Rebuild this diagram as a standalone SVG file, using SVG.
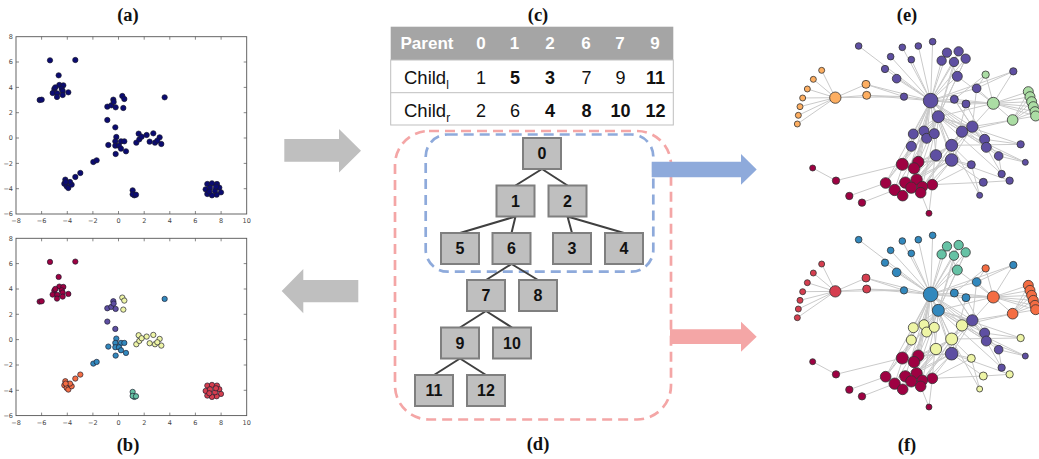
<svg xmlns="http://www.w3.org/2000/svg" xmlns:xlink="http://www.w3.org/1999/xlink" width="1039" height="459" viewBox="0 0 1039 459">
<style>
  .title { font-family: "Liberation Serif", serif; font-weight: bold; font-size: 18.5px; text-anchor: middle; fill: #111; }
  .tick { font-family: "DejaVu Sans", sans-serif; font-size: 6.5px; fill: #444; }
  .tx { text-anchor: middle; }
  .ty { text-anchor: end; }
  .axes { fill: #fff; stroke: #555; stroke-width: 0.9; }
  .tk { stroke: #555; stroke-width: 0.7; fill: none; }
  .pts { stroke: #1a1a2a; stroke-width: 2; }
  .tbl { font-family: "Liberation Sans", Arial, sans-serif; fill: #111; }
  .hd { font-family: "Liberation Sans", Arial, sans-serif; font-weight: bold; font-size: 17px; fill: #fff; }
  .v { font-size: 18px; text-anchor: middle; }
  .b { font-weight: bold; }
  .tnode rect { fill: #bfbfbf; stroke: #7f7f7f; stroke-width: 2; }
  .tnode text { font-family: "Liberation Sans", Arial, sans-serif; font-weight: bold; font-size: 16px; text-anchor: middle; fill: #111; }
  .tedge { stroke: #404040; stroke-width: 2; fill: none; }
  .dash-b { fill: none; stroke: #8eaadb; stroke-width: 2.7; stroke-dasharray: 10 6; }
  .dash-r { fill: none; stroke: #f4a6a6; stroke-width: 2.7; stroke-dasharray: 10 6; }
  .gedge { stroke: #cacaca; stroke-width: 3; fill: none; }
  .gn { stroke: #333; stroke-width: 2.4; }
</style>
<defs>
  <!-- scatter clusters, in 3x plot units (origin at image corner of the upper plot) -->
  <g id="s-dr">
    <circle cx="150" cy="181" r="8"/><circle cx="226" cy="180" r="8"/><circle cx="176" cy="226" r="8"/>
    <circle cx="163" cy="267" r="8"/><circle cx="178" cy="255" r="8"/><circle cx="190" cy="256" r="8"/>
    <circle cx="166" cy="262" r="8"/><circle cx="185" cy="266" r="8"/><circle cx="158" cy="279" r="8"/>
    <circle cx="172" cy="280" r="8"/><circle cx="188" cy="273" r="8"/><circle cx="205" cy="277" r="8"/>
    <circle cx="171" cy="291" r="8"/><circle cx="188" cy="285" r="8"/><circle cx="119" cy="300" r="8"/>
    <circle cx="125" cy="299" r="8"/>
  </g>
  <g id="s-bl">
    <circle cx="494" cy="292" r="8"/><circle cx="349" cy="411" r="8"/><circle cx="346" cy="424" r="8"/>
    <circle cx="363" cy="424" r="8"/><circle cx="373" cy="424" r="8"/><circle cx="346" cy="437" r="8"/>
    <circle cx="357" cy="437" r="8"/><circle cx="325" cy="435" r="8"/><circle cx="363" cy="446" r="8"/>
    <circle cx="378" cy="454" r="8"/><circle cx="347" cy="462" r="8"/><circle cx="280" cy="486" r="8"/>
    <circle cx="290" cy="481" r="8"/>
  </g>
  <g id="s-pu">
    <circle cx="322" cy="320" r="8"/><circle cx="334" cy="316" r="8"/><circle cx="340" cy="299" r="8"/>
    <circle cx="341" cy="306" r="8"/><circle cx="347" cy="322" r="8"/><circle cx="322" cy="360" r="8"/>
    <circle cx="346" cy="382" r="8"/>
  </g>
  <g id="s-ye">
    <circle cx="367" cy="288" r="8"/><circle cx="373" cy="297" r="8"/><circle cx="370" cy="324" r="8"/>
    <circle cx="416" cy="401" r="8"/><circle cx="409" cy="428" r="8"/><circle cx="418" cy="418" r="8"/>
    <circle cx="425" cy="410" r="8"/><circle cx="440" cy="405" r="8"/><circle cx="460" cy="400" r="8"/>
    <circle cx="449" cy="425" r="8"/><circle cx="465" cy="428" r="8"/><circle cx="479" cy="412" r="8"/>
    <circle cx="484" cy="432" r="8"/><circle cx="472" cy="422" r="8"/>
  </g>
  <g id="s-or">
    <circle cx="241" cy="519" r="8"/><circle cx="226" cy="531" r="8"/><circle cx="196" cy="539" r="8"/>
    <circle cx="193" cy="551" r="8"/><circle cx="200" cy="559" r="8"/><circle cx="205" cy="564" r="8"/>
    <circle cx="215" cy="554" r="8"/><circle cx="210" cy="546" r="8"/><circle cx="197" cy="546" r="8"/>
  </g>
  <g id="s-tl">
    <circle cx="398" cy="571" r="8"/><circle cx="403" cy="586" r="8"/><circle cx="398" cy="583" r="8"/>
    <circle cx="408" cy="584" r="8"/>
  </g>
  <g id="s-rd">
    <circle cx="622" cy="552" r="8"/><circle cx="636" cy="550" r="8"/><circle cx="651" cy="552" r="8"/>
    <circle cx="658" cy="563" r="8"/><circle cx="663" cy="577" r="8"/><circle cx="650" cy="584" r="8"/>
    <circle cx="636" cy="586" r="8"/><circle cx="622" cy="582" r="8"/><circle cx="617" cy="568" r="8"/>
    <circle cx="630" cy="563" r="8"/><circle cx="645" cy="572" r="8"/><circle cx="628" cy="575" r="8"/>
    <circle cx="648" cy="560" r="8"/>
  </g>

  <!-- axis frame with ticks and labels -->
  <g id="axes">
    <rect class="axes" x="16" y="36.7" width="230.7" height="177.3"/>
    <path class="tk" d="M41.6,214v-3M67.3,214v-3M92.9,214v-3M118.5,214v-3M144.2,214v-3M169.8,214v-3M195.4,214v-3M221.1,214v-3
                        M41.6,36.7v3M67.3,36.7v3M92.9,36.7v3M118.5,36.7v3M144.2,36.7v3M169.8,36.7v3M195.4,36.7v3M221.1,36.7v3
                        M16,62h3M16,87.4h3M16,112.7h3M16,138h3M16,163.4h3M16,188.7h3
                        M246.7,62h-3M246.7,87.4h-3M246.7,112.7h-3M246.7,138h-3M246.7,163.4h-3M246.7,188.7h-3"/>
    <g class="tick tx">
      <text x="16" y="223">−8</text><text x="41.6" y="223">−6</text><text x="67.3" y="223">−4</text>
      <text x="92.9" y="223">−2</text><text x="118.5" y="223">0</text><text x="144.2" y="223">2</text>
      <text x="169.8" y="223">4</text><text x="195.4" y="223">6</text><text x="221.1" y="223">8</text>
      <text x="246.7" y="223">10</text>
    </g>
    <g class="tick ty">
      <text x="13" y="39">8</text><text x="13" y="64.3">6</text><text x="13" y="89.7">4</text>
      <text x="13" y="115">2</text><text x="13" y="140.3">0</text><text x="13" y="165.7">−2</text>
      <text x="13" y="191">−4</text><text x="13" y="216.3">−6</text>
    </g>
  </g>

  <!-- graph layout: edges and node discs (3x layout units) -->
  <g id="graph-edges" class="gedge">
    <path d="M482,212L266,48M482,212L397,52M482,212L445,48M482,212L488,35M482,212L362,80M482,212L424,89
             M482,212L345,117M482,212L380,146M482,212L402,200M482,212L531,68M482,212L566,64M482,212L587,86
             M482,212L515,92M482,212L552,96M482,212L562,139M482,212L553,208M482,212L588,222M482,212L620,175
             M482,212L670,220M482,212L505,260M482,212L430,312M482,212L462,303M482,212L493,311M482,212L424,349
             M482,212L545,346M482,212L498,376M482,212L545,390M482,212L607,290M482,212L397,403M482,212L432,415
             M482,212L406,458M482,212L347,459M482,212L288,163M482,212L290,196M482,212L576,305M482,212L644,328
             M482,212L445,396M482,212L440,449M482,212L424,473M482,212L470,325M482,212L649,352M482,212L730,124"/>
    <path d="M196,203L155,121M196,203L130,148M196,203L112,177M196,203L98,204M196,203L90,230M196,203L85,256
             M196,203L82,282M196,203L288,163M196,203L290,196M290,196L402,200M288,163L402,200M196,203L402,200"/>
    <path d="M670,220L775,185M670,220L780,200M670,220L785,215M670,220L790,230M670,220L795,245M670,220L797,258
             M728,270L775,185M728,270L780,200M728,270L785,215M728,270L790,230M728,270L795,245M728,270L797,258
             M670,220L647,134M670,220L728,270M670,220L730,124M670,220L620,175M670,220L588,222M670,220L607,290
             M730,124L620,175M647,134L620,175M647,134L553,208M728,270L607,290M728,270L576,305M670,220L553,208
             M670,220L505,260M670,220L562,139"/>
    <path d="M607,290L644,328M607,290L649,352M607,290L545,346M607,290L545,390M644,328L752,343M644,328L686,378
             M649,352L686,378M649,352L766,397M649,352L695,432M686,378L695,432M686,378L766,397M545,390L604,404
             M545,390L640,457M545,390L719,452M640,457L719,452M545,346L604,404M545,346L629,496M604,404L629,496
             M505,260L545,346M505,260L545,390M505,260L607,290M505,260L644,328M505,260L649,352M505,260L576,305
             M505,260L430,312M505,260L462,303M505,260L397,403M505,260L445,396M505,260L440,449M505,260L487,464
             M552,96L505,260M566,64L505,260M587,86L505,260M562,139L505,260M531,68L562,139M587,86L562,139
             M576,305L545,346M576,305L649,352M553,208L607,290M588,222L644,328M620,175L607,290
             M505,260L752,343M545,346L752,343M576,305L766,397M505,260L695,432M553,208L649,352M588,222L545,390"/>
    <path d="M128,414L198,452M198,452L397,403M238,498L347,459M276,518L374,480M477,550L452,488M477,550L487,464
             M397,403L545,390M445,396L545,390M432,415L545,346M440,449L545,390M487,464L545,390M457,470L545,346
             M487,464L604,404M452,488L545,390M406,458L498,376M424,473L498,376M445,396L498,376M397,403L424,349
             M374,480L430,312M347,459L424,349M432,415L462,303M457,470L493,311M440,449L576,305M487,464L640,457
             M445,396L545,346M406,458L545,390M398,497L498,376M347,459L505,260M374,480L505,260M424,473L576,305
             M457,470L607,290M452,488L545,346"/>
  </g>
  <circle id="t1" cx="266" cy="48" r="10"/><circle id="t2" cx="397" cy="52" r="10"/>
  <circle id="t3" cx="445" cy="48" r="10"/><circle id="t4" cx="488" cy="35" r="10"/>
  <circle id="t5" cx="362" cy="80" r="10"/><circle id="t6" cx="424" cy="89" r="10"/>
  <circle id="t7" cx="345" cy="117" r="11"/><circle id="t8" cx="380" cy="146" r="13"/>
  <circle id="t9" cx="402" cy="200" r="11"/>
  <circle id="c1" cx="531" cy="68" r="14"/><circle id="c2" cx="566" cy="64" r="14"/>
  <circle id="c3" cx="587" cy="86" r="14"/><circle id="c4" cx="515" cy="92" r="14"/>
  <circle id="c5" cx="552" cy="96" r="14"/><circle id="c6" cx="562" cy="139" r="15"/>
  <circle id="hub" cx="482" cy="212" r="22"/><circle id="h2" cx="505" cy="260" r="18"/>
  <circle id="n1" cx="553" cy="208" r="12"/><circle id="n2" cx="588" cy="222" r="12"/>
  <circle id="n3" cx="620" cy="175" r="13"/><circle id="n4" cx="730" cy="124" r="11"/>
  <circle id="g1" cx="647" cy="134" r="11"/><circle id="ghub" cx="670" cy="220" r="18"/>
  <circle id="g2" cx="728" cy="270" r="16"/>
  <circle id="gc1" cx="775" cy="185" r="15"/><circle id="gc2" cx="780" cy="200" r="15"/>
  <circle id="gc3" cx="785" cy="215" r="15"/><circle id="gc4" cx="790" cy="230" r="15"/>
  <circle id="gc5" cx="795" cy="245" r="15"/><circle id="gc6" cx="797" cy="258" r="15"/>
  <circle id="o1" cx="155" cy="121" r="9"/><circle id="o2" cx="130" cy="148" r="9"/>
  <circle id="o3" cx="112" cy="177" r="9"/><circle id="o4" cx="98" cy="204" r="9"/>
  <circle id="o5" cx="90" cy="230" r="9"/><circle id="o6" cx="85" cy="256" r="9"/>
  <circle id="o7" cx="82" cy="282" r="9"/><circle id="ohub" cx="196" cy="203" r="17"/>
  <circle id="o8" cx="288" cy="163" r="12"/><circle id="o9" cx="290" cy="196" r="12"/>
  <circle id="m1" cx="430" cy="312" r="15"/><circle id="m2" cx="462" cy="303" r="15"/>
  <circle id="m3" cx="493" cy="311" r="15"/><circle id="m4" cx="470" cy="325" r="15"/>
  <circle id="m5" cx="424" cy="349" r="15"/><circle id="m6" cx="545" cy="346" r="18"/>
  <circle id="m7" cx="498" cy="376" r="17"/><circle id="m8" cx="545" cy="390" r="19"/>
  <circle id="m9" cx="576" cy="305" r="17"/><circle id="m10" cx="607" cy="290" r="17"/>
  <circle id="m11" cx="644" cy="328" r="15"/><circle id="m12" cx="649" cy="352" r="15"/>
  <circle id="m13" cx="686" cy="378" r="13"/><circle id="m14" cx="752" cy="343" r="11"/>
  <circle id="m15" cx="766" cy="397" r="9"/><circle id="m16" cx="604" cy="404" r="12"/>
  <circle id="m17" cx="695" cy="432" r="11"/><circle id="m18" cx="719" cy="452" r="11"/>
  <circle id="m19" cx="640" cy="457" r="12"/><circle id="m20" cx="629" cy="496" r="9"/>
  <circle id="d1" cx="128" cy="414" r="9"/><circle id="d2" cx="198" cy="452" r="11"/>
  <circle id="d3" cx="238" cy="498" r="11"/><circle id="d4" cx="276" cy="518" r="11"/>
  <circle id="d5" cx="477" cy="550" r="9"/>
  <g id="dcluster">
    <circle cx="397" cy="403" r="18"/><circle cx="445" cy="396" r="17"/><circle cx="432" cy="415" r="17"/>
    <circle cx="347" cy="459" r="16"/><circle cx="374" cy="480" r="17"/><circle cx="406" cy="458" r="17"/>
    <circle cx="440" cy="449" r="17"/><circle cx="487" cy="464" r="16"/><circle cx="424" cy="473" r="17"/>
    <circle cx="457" cy="470" r="16"/><circle cx="398" cy="497" r="16"/><circle cx="452" cy="488" r="16"/>
  </g>
  <g id="nodes-small-red">
    <use xlink:href="#d1"/><use xlink:href="#d2"/><use xlink:href="#d3"/><use xlink:href="#d4"/><use xlink:href="#d5"/>
    <use xlink:href="#dcluster"/>
  </g>
</defs>

<!-- scatter plots -->
<g id="scatter-a">
  <use xlink:href="#axes"/>
  <g class="pts" fill="#0b0b72" transform="scale(0.3333)">
    <use xlink:href="#s-dr"/><use xlink:href="#s-bl"/><use xlink:href="#s-pu"/><use xlink:href="#s-ye"/>
    <use xlink:href="#s-or"/><use xlink:href="#s-tl"/><use xlink:href="#s-rd"/>
  </g>
</g>
<g id="scatter-b" transform="translate(0,201.6)">
  <use xlink:href="#axes"/>
  <g class="pts" transform="scale(0.3333)">
    <use xlink:href="#s-dr" fill="#9e0142"/><use xlink:href="#s-bl" fill="#3288bd"/>
    <use xlink:href="#s-pu" fill="#5e4fa2"/><use xlink:href="#s-ye" fill="#eef5a6"/>
    <use xlink:href="#s-or" fill="#f46d43"/><use xlink:href="#s-tl" fill="#66c2a5"/>
    <use xlink:href="#s-rd" fill="#d53e4f"/>
  </g>
</g>

<!-- panel captions -->
<text class="title" x="128" y="20.5">(a)</text>
<text class="title" x="128" y="450.5">(b)</text>
<text class="title" x="538" y="20.5">(c)</text>
<text class="title" x="538" y="450">(d)</text>
<text class="title" x="907" y="20.5">(e)</text>
<text class="title" x="907" y="450.5">(f)</text>

<!-- transition arrows -->
<g id="arrows">
  <polygon fill="#bfbfbf" points="284.3,139 339,139 339,129 361,150.7 339,172.5 339,161.7 284.3,161.7"/>
  <polygon fill="#bfbfbf" points="358.3,280 303.3,280 303.3,269 281.7,291 303.3,313.3 303.3,302.3 358.3,302.3"/>
</g>

<!-- parent/child table -->
<g id="table">
  <rect x="390.7" y="26.7" width="282.6" height="33.3" fill="#a5a5a5"/>
  <rect x="390.7" y="60" width="282.6" height="65" fill="#fff" stroke="#bfbfbf" stroke-width="1"/>
  <line x1="390.7" y1="92.7" x2="673.3" y2="92.7" stroke="#bfbfbf" stroke-width="1"/>
  <text class="hd" x="427" y="49" text-anchor="middle">Parent</text>
  <g class="hd" text-anchor="middle">
    <text x="481" y="49">0</text><text x="514.5" y="49">1</text><text x="550" y="49">2</text>
    <text x="586" y="49">6</text><text x="620" y="49">7</text><text x="655" y="49">9</text>
  </g>
  <text class="tbl" x="404" y="84" font-size="18.5">Child<tspan font-size="12" dy="5">l</tspan></text>
  <g class="tbl">
    <text class="v" x="481" y="84">1</text><text class="v b" x="515" y="84">5</text>
    <text class="v b" x="550" y="84">3</text><text class="v" x="586.5" y="84">7</text>
    <text class="v" x="620.5" y="84">9</text><text class="v b" x="655.5" y="84">11</text>
  </g>
  <text class="tbl" x="404" y="116.5" font-size="18.5">Child<tspan font-size="12" dy="5">r</tspan></text>
  <g class="tbl">
    <text class="v" x="481" y="116.5">2</text><text class="v" x="515" y="116.5">6</text>
    <text class="v b" x="550" y="116.5">4</text><text class="v b" x="586.5" y="116.5">8</text>
    <text class="v b" x="620.5" y="116.5">10</text><text class="v b" x="655.5" y="116.5">12</text>
  </g>
</g>

<!-- subtree outlines -->
<rect class="dash-r" x="395" y="131" width="276" height="288.5" rx="34"/>
<rect class="dash-b" x="425.7" y="134.5" width="227.6" height="137.2" rx="22"/>

<g id="arrows-out">
  <polygon fill="#8eaadb" points="651.7,161.7 741,161.7 741,154 756.7,169.5 741,184.8 741,177.3 651.7,177.3"/>
  <polygon fill="#f4a6a6" points="670,329.3 741,329.3 741,321.7 756.7,336.7 741,351.7 741,344 670,344"/>
</g>

<!-- tree -->
<g id="connectors" class="tedge">
  <path d="M542,169L515.5,185.5M542,169L567.5,185.5"/>
  <path d="M515.5,216.5L460,233M515.5,216.5L511.5,233M567.5,216.5L572,233M567.5,216.5L624,233"/>
  <path d="M511.5,264L486,280M511.5,264L538,280"/>
  <path d="M486,311L460,327.5M486,311L512,327.5"/>
  <path d="M460,358.5L434,375M460,358.5L486,375"/>
</g>
<g id="node-0" class="tnode"><rect x="523" y="138" width="38" height="31"/><text x="542" y="159.3">0</text></g>
<g id="node-1" class="tnode"><rect x="496.5" y="185.5" width="38" height="31"/><text x="515.5" y="206.8">1</text></g>
<g id="node-2" class="tnode"><rect x="548.5" y="185.5" width="38" height="31"/><text x="567.5" y="206.8">2</text></g>
<g id="node-5" class="tnode"><rect x="441" y="233" width="38" height="31"/><text x="460" y="254.3">5</text></g>
<g id="node-6" class="tnode"><rect x="492.5" y="233" width="38" height="31"/><text x="511.5" y="254.3">6</text></g>
<g id="node-3" class="tnode"><rect x="553" y="233" width="38" height="31"/><text x="572" y="254.3">3</text></g>
<g id="node-4" class="tnode"><rect x="605" y="233" width="38" height="31"/><text x="624" y="254.3">4</text></g>
<g id="node-7" class="tnode"><rect x="467" y="280" width="38" height="31"/><text x="486" y="301.3">7</text></g>
<g id="node-8" class="tnode"><rect x="519" y="280" width="38" height="31"/><text x="538" y="301.3">8</text></g>
<g id="node-9" class="tnode"><rect x="441" y="327.5" width="38" height="31"/><text x="460" y="348.8">9</text></g>
<g id="node-10" class="tnode"><rect x="493" y="327.5" width="38" height="31"/><text x="512" y="348.8">10</text></g>
<g id="node-11" class="tnode"><rect x="415" y="375" width="38" height="31"/><text x="434" y="396.3">11</text></g>
<g id="node-12" class="tnode"><rect x="467" y="375" width="38" height="31"/><text x="486" y="396.3">12</text></g>

<!-- network, two-community colouring -->
<g id="graph-e" transform="translate(770,30) scale(0.3333)">
  <use xlink:href="#graph-edges"/>
  <g class="gn">
    <g fill="#fdae61">
      <use xlink:href="#o1"/><use xlink:href="#o2"/><use xlink:href="#o3"/><use xlink:href="#o4"/><use xlink:href="#o5"/>
      <use xlink:href="#o6"/><use xlink:href="#o7"/><use xlink:href="#ohub"/><use xlink:href="#o8"/><use xlink:href="#o9"/>
    </g>
    <g fill="#abdda4">
      <use xlink:href="#g1"/><use xlink:href="#ghub"/><use xlink:href="#g2"/>
      <use xlink:href="#gc1"/><use xlink:href="#gc2"/><use xlink:href="#gc3"/><use xlink:href="#gc4"/><use xlink:href="#gc5"/><use xlink:href="#gc6"/>
    </g>
    <g fill="#5e4fa2">
      <use xlink:href="#t1"/><use xlink:href="#t2"/><use xlink:href="#t3"/><use xlink:href="#t4"/><use xlink:href="#t5"/>
      <use xlink:href="#t6"/><use xlink:href="#t7"/><use xlink:href="#t8"/><use xlink:href="#t9"/>
      <use xlink:href="#c1"/><use xlink:href="#c2"/><use xlink:href="#c3"/><use xlink:href="#c4"/><use xlink:href="#c5"/><use xlink:href="#c6"/>
      <use xlink:href="#hub"/><use xlink:href="#h2"/><use xlink:href="#n1"/><use xlink:href="#n2"/><use xlink:href="#n3"/><use xlink:href="#n4"/>
      <use xlink:href="#m1"/><use xlink:href="#m2"/><use xlink:href="#m4"/><use xlink:href="#m3"/><use xlink:href="#m5"/>
      <use xlink:href="#m6"/><use xlink:href="#m7"/><use xlink:href="#m8"/><use xlink:href="#m9"/><use xlink:href="#m10"/>
      <use xlink:href="#m11"/><use xlink:href="#m12"/><use xlink:href="#m13"/><use xlink:href="#m14"/><use xlink:href="#m15"/>
      <use xlink:href="#m16"/><use xlink:href="#m17"/><use xlink:href="#m18"/><use xlink:href="#m19"/><use xlink:href="#m20"/>
    </g>
    <use xlink:href="#nodes-small-red" fill="#9e0142"/>
  </g>
</g>

<!-- network, fine-grained colouring -->
<g id="graph-f" transform="translate(770,223.7) scale(0.3333)">
  <use xlink:href="#graph-edges"/>
  <g class="gn">
    <g fill="#d53e4f">
      <use xlink:href="#o1"/><use xlink:href="#o2"/><use xlink:href="#o3"/><use xlink:href="#o4"/><use xlink:href="#o5"/>
      <use xlink:href="#o6"/><use xlink:href="#o7"/><use xlink:href="#ohub"/><use xlink:href="#o8"/><use xlink:href="#o9"/>
    </g>
    <g fill="#f46d43">
      <use xlink:href="#g1"/><use xlink:href="#ghub"/><use xlink:href="#g2"/>
      <use xlink:href="#gc1"/><use xlink:href="#gc2"/><use xlink:href="#gc3"/><use xlink:href="#gc4"/><use xlink:href="#gc5"/><use xlink:href="#gc6"/>
    </g>
    <g fill="#3288bd">
      <use xlink:href="#t1"/><use xlink:href="#t2"/><use xlink:href="#t3"/><use xlink:href="#t4"/><use xlink:href="#t5"/>
      <use xlink:href="#t6"/><use xlink:href="#t7"/><use xlink:href="#t8"/><use xlink:href="#t9"/>
      <use xlink:href="#hub"/><use xlink:href="#h2"/><use xlink:href="#n1"/><use xlink:href="#n2"/><use xlink:href="#n3"/><use xlink:href="#n4"/>
    </g>
    <g fill="#66c2a5">
      <use xlink:href="#c1"/><use xlink:href="#c2"/><use xlink:href="#c3"/><use xlink:href="#c4"/><use xlink:href="#c5"/><use xlink:href="#c6"/>
    </g>
    <g fill="#eef5a6">
      <use xlink:href="#m1"/><use xlink:href="#m2"/><use xlink:href="#m4"/><use xlink:href="#m3"/><use xlink:href="#m5"/>
      <use xlink:href="#m6"/><use xlink:href="#m7"/><use xlink:href="#m9"/><use xlink:href="#m14"/>
      <use xlink:href="#m16"/><use xlink:href="#m18"/><use xlink:href="#m19"/><use xlink:href="#m20"/>
    </g>
    <g fill="#5e4fa2">
      <use xlink:href="#m8"/><use xlink:href="#m10"/><use xlink:href="#m11"/><use xlink:href="#m12"/>
      <use xlink:href="#m13"/><use xlink:href="#m15"/><use xlink:href="#m17"/>
    </g>
    <use xlink:href="#nodes-small-red" fill="#9e0142"/>
  </g>
</g>
</svg>
